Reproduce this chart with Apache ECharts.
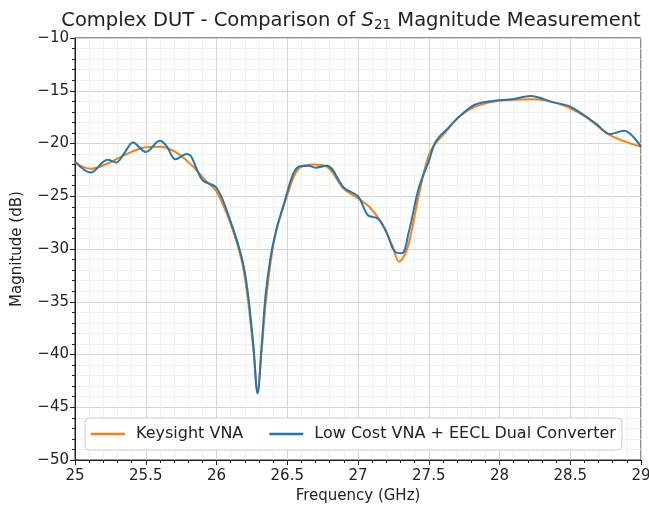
<!DOCTYPE html>
<html><head><meta charset="utf-8">
<script src="https://cdn.jsdelivr.net/npm/echarts@6/dist/echarts.min.js"></script>
<style>html,body{margin:0;padding:0;background:#fff}#c{width:649px;height:508px}</style>
</head><body><div id="c"></div>
<script>
const keysightFreq = [25.00,25.11,25.23,25.35,25.50,25.60,25.71,25.82,25.92,26.00,26.10,26.18,26.22,26.26,26.29,26.32,26.35,26.41,26.50,26.58,26.69,26.78,26.90,27.00,27.08,27.16,27.24,27.29,27.35,27.43,27.51,27.62,27.72,27.83,28.00,28.23,28.41,28.60,28.78,29.00];
const keysightDb   = [-21.8,-22.4,-21.9,-21.1,-20.35,-20.3,-20.8,-22.0,-23.45,-24.55,-27.6,-31.2,-34.6,-39.5,-43.4,-39.5,-34.8,-29.0,-24.9,-22.4,-22.0,-22.2,-24.3,-25.2,-26.0,-27.4,-29.6,-31.2,-29.9,-24.9,-20.8,-18.9,-17.4,-16.5,-15.95,-15.8,-16.2,-17.4,-19.2,-20.3];
const lowCostFreq  = [25.00,25.11,25.23,25.29,25.35,25.41,25.50,25.60,25.65,25.71,25.79,25.82,25.90,26.00,26.10,26.18,26.22,26.26,26.29,26.32,26.35,26.40,26.47,26.58,26.65,26.70,26.78,26.90,27.00,27.07,27.14,27.20,27.26,27.31,27.36,27.43,27.50,27.55,27.64,27.72,27.83,28.00,28.09,28.22,28.38,28.50,28.68,28.78,28.88,29.00];
const lowCostDb    = [-21.7,-22.75,-21.55,-21.8,-20.9,-19.9,-20.8,-19.75,-20.3,-21.5,-21.0,-21.2,-23.45,-24.2,-27.4,-30.9,-34.0,-39.0,-43.7,-39.0,-34.0,-29.5,-26.0,-22.2,-22.1,-22.3,-22.1,-24.2,-25.0,-26.8,-27.1,-28.35,-30.25,-30.4,-28.35,-24.2,-21.7,-19.8,-18.5,-17.4,-16.3,-15.9,-15.8,-15.5,-16.1,-16.5,-18.1,-19.1,-18.8,-20.3];
const seriesNames = ['Keysight VNA','Low Cost VNA + EECL Dual Converter'];

const zip = (a,b)=>a.map((v,i)=>[v,b[i]]);
const font = 'DejaVu Sans';
const fs = 15;
const chart = echarts.init(document.getElementById('c'));
chart.setOption({
  animation:false,
  backgroundColor:'#fff',
  title:{
    text:'Complex DUT - Comparison of {i|S}{s|21} Magnitude Measurement',
    left:346, top:4, textAlign:'center',
    textStyle:{fontFamily:font,fontSize:19.5,fontWeight:'normal',color:'#222',
      rich:{i:{fontFamily:font,fontSize:19.5,fontStyle:'italic',color:'#222'},
            s:{fontFamily:font,fontSize:13.5,color:'#222',verticalAlign:'bottom',padding:[9,0,0,0]}}}
  },
  grid:{left:75,right:8,top:38,bottom:48,show:true,borderColor:'#222',borderWidth:1,outerBoundsMode:'none',containLabel:false},
  legend:{
    data:seriesNames, left:85, top:418,
    icon:'rect', itemWidth:34, itemHeight:2.5, itemGap:26,
    padding:[8,6], backgroundColor:'#fff', borderColor:'#ccc', borderWidth:1, borderRadius:4,
    textStyle:{fontFamily:font,fontSize:16,color:'#222',padding:[0,0,0,6]}
  },
  xAxis:{
    type:'value', min:25, max:29, interval:0.5,
    name:'Frequency (GHz)', nameLocation:'middle', nameGap:29,
    nameTextStyle:{fontFamily:font,fontSize:fs,color:'#222'},
    axisLine:{lineStyle:{color:'#222'}},
    axisTick:{show:true,inside:false,length:5,lineStyle:{color:'#222'}},
    minorTick:{show:true,splitNumber:5,length:3,lineStyle:{color:'#222'}},
    axisLabel:{fontFamily:font,fontSize:fs,color:'#222',margin:9,formatter:v=>String(v)},
    splitLine:{show:true,lineStyle:{color:'#d6d6d6',width:1}},
    minorSplitLine:{show:true,lineStyle:{color:'#ececec',width:0.8}}
  },
  yAxis:{
    type:'value', min:-50, max:-10, interval:5,
    name:'Magnitude (dB)', nameLocation:'middle', nameGap:50,
    nameTextStyle:{fontFamily:font,fontSize:fs,color:'#222'},
    axisLine:{show:true,lineStyle:{color:'#222'}},
    axisTick:{show:true,inside:false,length:5,lineStyle:{color:'#222'}},
    minorTick:{show:true,splitNumber:5,length:3,lineStyle:{color:'#222'}},
    axisLabel:{fontFamily:font,fontSize:fs,color:'#222',margin:6,formatter:v=>String(v).replace('-','\u2212')},
    splitLine:{show:true,lineStyle:{color:'#d6d6d6',width:1}},
    minorSplitLine:{show:true,lineStyle:{color:'#ececec',width:0.8}}
  },
  series:[
    {name:seriesNames[0],type:'line',data:zip(keysightFreq,keysightDb),showSymbol:false,smooth:0.35,
     lineStyle:{color:'#ff7f0e',width:2},itemStyle:{color:'#ff7f0e'},z:2},
    {name:seriesNames[1],type:'line',data:zip(lowCostFreq,lowCostDb),showSymbol:false,smooth:0.35,
     lineStyle:{color:'#1f77b4',width:2},itemStyle:{color:'#1f77b4'},z:3}
  ]
});
</script></body></html>
